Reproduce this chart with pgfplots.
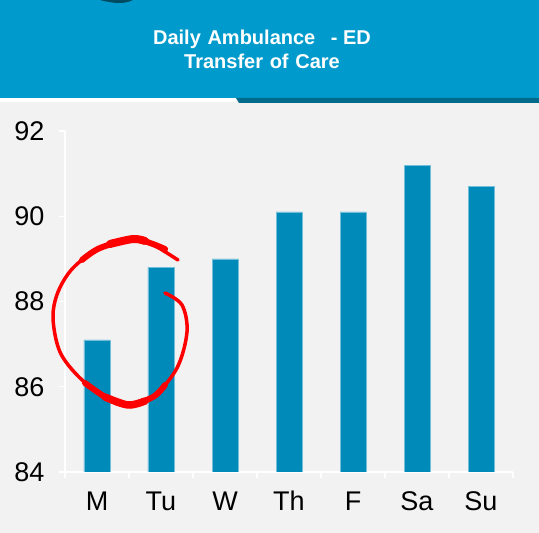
\documentclass[border=0pt]{standalone}
\usepackage{fontspec}
\setmainfont{Liberation Sans}
\usepackage{pgfplots}
\pgfplotsset{compat=1.18}
\definecolor{header}{RGB}{0,155,204}
\definecolor{darkstrip}{RGB}{0,107,138}
\definecolor{bg}{RGB}{242,242,242}
\definecolor{bar}{RGB}{0,138,186}

\begin{document}
\begin{tikzpicture}[x=1pt,y=1pt]
% page background and header band
\fill[bg] (0,0) rectangle (539,533);
\fill[header] (0,435) rectangle (539,533);
\fill[white] (0,431) rectangle (236,435);
\fill[darkstrip] (236,435) -- (239,430) -- (539,430) -- (539,435) -- cycle;
\fill[darkstrip!70!black] (100,533) .. controls (115,529) and (125,529) .. (133,533) -- cycle;
\node[white, font=\fontsize{20}{24}\selectfont\bfseries, align=center] at (262,484)
  {Daily\,\,Ambulance\,\,\, - ED\\Transfer\,\,of\,\,Care};

\begin{axis}[
    at={(65pt,61pt)}, anchor=south west,
    width=448pt, height=341pt, scale only axis,
    xmin=-0.5, xmax=6.5,
    ymin=84, ymax=92,
    ytick={84,86,88,90,92},
    xtick={0,...,6},
    xticklabels={M,Tu,W,Th,F,Sa,Su},
    minor xtick={-0.5,0.5,...,6.5},
    axis x line=bottom, axis y line=left,
    axis line style={white, line width=1.5pt, -},
    tick align=outside,
    major x tick style={draw=none},
    tick style={white, line width=1.5pt},
    major tick length=6pt, minor tick length=6pt,
    ticklabel style={font=\fontsize{27}{32}\selectfont},
    /pgf/number format/assume math mode=true,
    yticklabel style={xshift=-11pt},
    xticklabel style={yshift=-22pt, text height=0.72em, text depth=0.2em},
    ybar, bar width=26pt,
]
\addplot[fill=bar, draw=bar!55!white, line width=0.6pt] coordinates {
    (0,87.1) (1,88.8) (2,89.0) (3,90.1) (4,90.1) (5,91.2) (6,90.7)
};
\end{axis}

% hand-drawn red circle annotation
\draw[red, line width=3.5pt, line cap=round]
  plot[smooth, tension=0.55] coordinates {
    (178,273) (150,290) (133,294) (100,285) (73,265) (58,241) (53,215) (60,181)
    (80,155) (107,135) (128,128) (153,136) (177,165) (187,201) (182,228) (165,240)};
\draw[red, line width=6pt, line cap=round]
  plot[smooth, tension=0.55] coordinates {(165,284) (150,290) (133,294) (100,285) (82,273)};
\draw[red, line width=8pt, line cap=round]
  plot[smooth, tension=0.55] coordinates {(145,292) (133,294) (110,289)};
\draw[red, line width=6pt, line cap=round]
  plot[smooth, tension=0.55] coordinates {(85,150) (107,135) (128,128) (153,136) (165,148)};
\draw[red, line width=7.5pt, line cap=round]
  plot[smooth, tension=0.55] coordinates {(105,136) (128,128) (145,132)};

\pgfresetboundingbox
\path (0,0) rectangle (539,533);
\end{tikzpicture}
\end{document}
